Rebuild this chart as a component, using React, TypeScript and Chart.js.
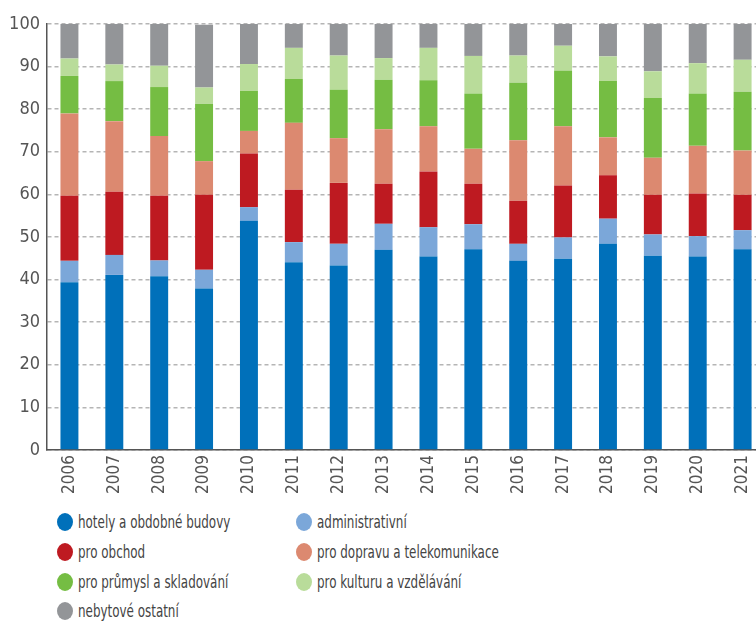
import React, { useEffect, useRef } from "react";
import { Chart, registerables } from "chart.js";

Chart.register(...registerables);

const years = ["2006","2007","2008","2009","2010","2011","2012","2013","2014","2015","2016","2017","2018","2019","2020","2021"];

const hotely = [39.4, 41.1, 40.8, 37.9, 53.8, 44.1, 43.3, 47.0, 45.4, 47.1, 44.4, 44.9, 48.4, 45.6, 45.4, 47.1];
const administrativni = [5.0, 4.7, 3.7, 4.4, 3.2, 4.7, 5.1, 6.1, 6.9, 5.9, 4.0, 5.0, 5.9, 5.0, 4.8, 4.5];
const obchod = [15.3, 14.8, 15.2, 17.6, 12.6, 12.3, 14.3, 9.4, 13.1, 9.5, 10.1, 12.2, 10.2, 9.3, 10.0, 8.3];
const doprava = [19.3, 16.6, 14.0, 7.9, 5.3, 15.7, 10.5, 12.8, 10.6, 8.2, 14.2, 13.9, 8.9, 8.7, 11.2, 10.4];
const prumysl = [8.8, 9.4, 11.5, 13.5, 9.4, 10.3, 11.4, 11.6, 10.8, 13.0, 13.5, 13.0, 13.2, 14.0, 12.3, 13.8];
const kultura = [4.1, 3.9, 5.0, 3.8, 6.3, 7.3, 8.0, 5.1, 7.6, 8.8, 6.4, 5.9, 5.8, 6.3, 7.1, 7.5];
const ostatni = [8.1, 9.5, 9.8, 14.7, 9.4, 5.6, 7.4, 8.0, 5.6, 7.5, 7.4, 5.1, 7.6, 11.1, 9.2, 8.4];

const seriesNames = [
  "hotely a obdobné budovy",
  "administrativní",
  "pro obchod",
  "pro dopravu a telekomunikace",
  "pro průmysl a skladování",
  "pro kulturu a vzdělávání",
  "nebytové ostatní",
];
const seriesData = [hotely, administrativni, obchod, doprava, prumysl, kultura, ostatni];
const seriesColors = ["#0070BA", "#7BA7D9", "#BE1A21", "#DC8970", "#75BD43", "#B9DC9A", "#939598"];

const yTicks = [0, 10, 20, 30, 40, 50, 60, 70, 80, 90, 100];

const FONT = "'DejaVu Sans Condensed', 'Noto Sans', sans-serif";

export default function App() {
  const ref = useRef<HTMLCanvasElement>(null);
  useEffect(() => {
    if (!ref.current) return;
    const chart = new Chart(ref.current, {
      type: "bar",
      data: {
        labels: years,
        datasets: seriesNames.map((name, i) => ({
          label: name,
          data: seriesData[i],
          backgroundColor: seriesColors[i],
          borderWidth: 0,
          categoryPercentage: 1,
          barPercentage: 0.4,
        })),
      },
      options: {
        responsive: false,
        animation: false,
        layout: { padding: { top: 24, left: 0, right: 0, bottom: 0 } },
        plugins: { legend: { display: false }, tooltip: { enabled: false } },
        scales: {
          x: {
            stacked: true,
            offset: true,
            grid: { display: false, drawTicks: false },
            border: { display: true, color: "#555", width: 1.5 },
            ticks: {
              minRotation: 90,
              maxRotation: 90,
              padding: 5,
              color: "#555",
              font: { family: FONT, size: 17 },
            },
            afterFit: (axis: any) => {
              axis.height = 55;
            },
          },
          y: {
            stacked: true,
            min: 0,
            max: 100,
            afterBuildTicks: (axis: any) => {
              axis.ticks = yTicks.map((v) => ({ value: v }));
            },
            grid: {
              color: "#b5b5b5",
              lineWidth: 1.5,
              drawTicks: false,
            },
            border: { display: true, color: "#555", width: 1.5, dash: [4, 3] },
            ticks: {
              padding: 7,
              color: "#555",
              font: { family: FONT, size: 18 },
            },
            afterFit: (axis: any) => {
              axis.width = 47;
            },
          },
        },
      },
    } as any);
    return () => chart.destroy();
  }, []);

  const rows = [
    [0, 1],
    [2, 3],
    [4, 5],
    [6],
  ];
  const rowY = [522, 552, 582, 611];
  const colCircle = [65, 304];

  return (
    <div
      style={{
        position: "fixed",
        left: 0,
        top: 0,
        width: 756,
        height: 622,
        overflow: "hidden",
        background: "#fff",
        fontFamily: FONT,
      }}
    >
      <canvas ref={ref} width={768} height={505} style={{ position: "absolute", left: 0, top: 0 }} />
      {rows.map((r, ri) =>
        r.map((si, ci) => (
          <div
            key={si}
            style={{
              position: "absolute",
              left: colCircle[ci] - 8,
              top: rowY[ri] - 12,
              height: 24,
              display: "flex",
              alignItems: "center",
              whiteSpace: "nowrap",
            }}
          >
            <span
              style={{
                display: "inline-block",
                width: 16,
                height: 18,
                borderRadius: "50%",
                background: seriesColors[si],
                marginRight: 5,
              }}
            />
            <span
              style={{
                fontSize: 17,
                color: "#444",
                display: "inline-block",
                transform: "scaleX(0.78)",
                transformOrigin: "left center",
              }}
            >
              {seriesNames[si]}
            </span>
          </div>
        ))
      )}
    </div>
  );
}
